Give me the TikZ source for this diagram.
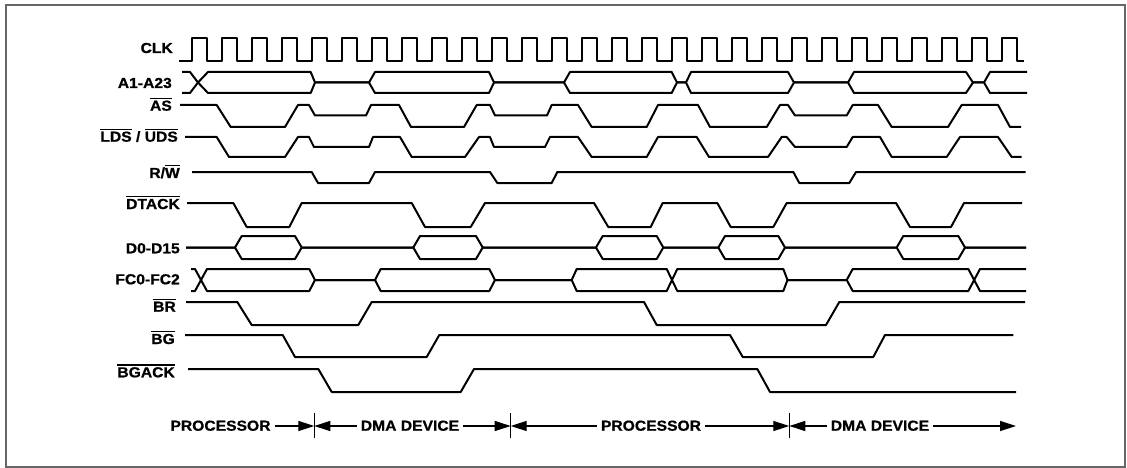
\documentclass[tikz,border=0pt]{standalone}
\usepackage{fontspec}
\setmainfont{Liberation Sans}[FakeStretch=1.08, BoldFeatures={FakeBold=0.8}]
\usetikzlibrary{arrows.meta}
\newcommand{\ovl}[1]{\vbox{\hrule height 1.4pt\kern 1.6pt\hbox{#1}}}

\begin{document}
\begin{tikzpicture}[x=1pt, y=-1pt,
  sig/.style={line width=2pt, line join=round},
  lbl/.style={anchor=base east, inner sep=0pt, font=\fontsize{14.5}{17}\selectfont\bfseries},
  who/.style={anchor=base, inner xsep=4pt, inner ysep=0pt, font=\fontsize{14.5}{17}\selectfont\bfseries},
  span/.style={line width=1.3pt, -{Triangle[length=16pt, width=10pt]}},
  bar/.style={line width=1.4pt}]
  \useasboundingbox (0,0) rectangle (1127,468);
  \draw[black!60, line width=1.2pt] (6,5) rectangle (1125,467);

  % signal names
  \node[lbl] (clk) at (173,53) {CLK};
  \node[lbl] (addr) at (172,88) {A1-A23};
  \node[lbl] (as) at (172,110.7) {\ovl{AS}};
  \node[lbl] (ds) at (178,141.7) {\ovl{LDS} / \ovl{UDS}};
  \node[lbl] (rw) at (180,178) {R/\ovl{W}};
  \node[lbl] (dtack) at (180,209) {\ovl{DTACK}};
  \node[lbl] (data) at (180,253.3) {D0-D15};
  \node[lbl] (fc) at (180,284.3) {FC0-FC2};
  \node[lbl] (br) at (176,311.7) {\ovl{BR}};
  \node[lbl] (bg) at (175,344) {\ovl{BG}};
  \node[lbl] (bgack) at (175,377.3) {\ovl{BGACK}};

  % CLK
  \draw[sig] (179,61) \foreach \k in {0,...,27} {
    -- ({192+30*\k},61) -- ({192+30*\k},38) -- ({206.5+30*\k},38) -- ({206.5+30*\k},61)} -- (1024,61);

  % A1-A23
  \foreach \y in {72,93}
    \draw[sig] (182,\y) -- (190,\y) -- (198,82.5) -- (208,165-\y) -- (310.7,165-\y) -- (315,82.5)
      -- (369,82.5) -- (375,165-\y) -- (489,165-\y) -- (494,82.5) -- (564,82.5) -- (570,165-\y)
      -- (671.7,165-\y) -- (677,82.5) -- (686,82.5) -- (691,165-\y) -- (788,165-\y) -- (794,82.5)
      -- (848,82.5) -- (854,165-\y) -- (966,165-\y) -- (973,82.5) -- (984,82.5) -- (990,165-\y)
      -- (1027,165-\y);

  % AS
  \draw[sig] (180,105) -- (216.7,105) -- (230.7,127) -- (285,127) -- (298,105) -- (309,105)
    -- (315,115.5) -- (366,115.5) -- (371,105) -- (399,105) -- (411,127) -- (464,127) -- (476.7,105)
    -- (490,105) -- (495,115.5) -- (547,115.5) -- (551.7,105) -- (578,105) -- (591.7,127)
    -- (646.7,127) -- (658,105) -- (698,105) -- (710,127) -- (766.7,127) -- (780,105) -- (788,105)
    -- (795,115.5) -- (846.7,115.5) -- (852.7,105) -- (878,105) -- (891.7,127) -- (948,127)
    -- (961.7,105) -- (998,105) -- (1010,127) -- (1021,127);

  % LDS / UDS
  \draw[sig] (185,137) -- (216.7,137) -- (229,157) -- (285,157) -- (298,137) -- (309,137)
    -- (314,147) -- (369,147) -- (373,137) -- (400,137) -- (411.7,157) -- (465,157) -- (479,137)
    -- (490,137) -- (494,147) -- (545,147) -- (550,137) -- (578,137) -- (591.7,157)
    -- (646.7,157) -- (658,137) -- (696.7,137) -- (709,157) -- (768,157) -- (781.7,137)
    -- (786.7,137) -- (795,147) -- (846.7,147) -- (852.7,137) -- (880,137) -- (891.7,157)
    -- (946.7,157) -- (960,137) -- (998,137) -- (1011.7,157) -- (1021.7,157);

  % R/W
  \draw[sig] (192,172) -- (311.7,172) -- (318,183) -- (369,183) -- (375,172) -- (490,172)
    -- (497.3,183) -- (551.7,183) -- (557.3,172) -- (793.3,172) -- (799.3,183) -- (849.3,183)
    -- (856,172) -- (1025.7,172);

  % DTACK
  \draw[sig] (187,203) -- (233.3,203) -- (246.7,227) -- (289.3,227) -- (301.7,203) -- (411.7,203)
    -- (425,227) -- (470.7,227) -- (485,203) -- (594,203) -- (608.3,227) -- (650.7,227)
    -- (662.7,203) -- (717.3,203) -- (730.7,227) -- (773.3,227) -- (786.7,203) -- (896,203)
    -- (910,227) -- (951,227) -- (964,203) -- (1022,203);

  % D0-D15
  \foreach \y in {236,259}
    \draw[sig] (186,247.5) -- (235,247.5) -- (241.7,\y) -- (295,\y) -- (301.7,247.5)
      -- (413.3,247.5) -- (420,\y) -- (476,\y) -- (482.7,247.5) -- (596,247.5) -- (602.7,\y)
      -- (656.7,\y) -- (663.3,247.5) -- (718.3,247.5) -- (725,\y) -- (778.3,\y) -- (785,247.5)
      -- (896.7,247.5) -- (903.3,\y) -- (958.3,\y) -- (965,247.5) -- (1026,247.5);

  % FC0-FC2
  \foreach \y in {269,291}
    \draw[sig] (191,\y) -- (195,\y) -- (207,560-\y) -- (309.3,560-\y) -- (315,280) -- (375,280)
      -- (380.7,\y) -- (489.3,\y) -- (495,280) -- (571.7,280) -- (576.7,\y) -- (666.7,\y)
      -- (677.3,560-\y) -- (783.3,560-\y) -- (787.5,280) -- (846.7,280) -- (852.7,\y)
      -- (968.3,\y) -- (980,560-\y) -- (1026,560-\y);

  % BR
  \draw[sig] (186,302) -- (237.3,302) -- (251.7,325) -- (358.3,325) -- (371.7,302) -- (644,302)
    -- (656.7,325) -- (826,325) -- (839.3,302) -- (1025,302);

  % BG
  \draw[sig] (185,335) -- (282.7,335) -- (295,357) -- (426.7,357) -- (439.3,335) -- (730,335)
    -- (742.7,357) -- (873.3,357) -- (885,335) -- (1013.3,335);

  % BGACK
  \draw[sig] (188,369) -- (318.3,369) -- (331.7,392) -- (460.7,392) -- (474,369) -- (757.3,369)
    -- (770,392) -- (1016,392);

  % bus owner
  \node[who] (proc1) at (220.5,430.7) {PROCESSOR};
  \node[who] (dma1) at (410,430.7) {DMA DEVICE};
  \node[who] (proc2) at (651,430.7) {PROCESSOR};
  \node[who] (dma2) at (880,430.7) {DMA DEVICE};
  \coordinate (b1) at (314.3,426);
  \coordinate (b2) at (510.7,426);
  \coordinate (b3) at (789.3,426);
  \coordinate (fin) at (1016,426);
  \foreach \b in {b1,b2,b3}
    \draw[bar] ([yshift=13pt]\b) -- ([yshift=-12pt]\b);
  \draw[span] (proc1.east |- b1) -- (b1);
  \draw[span] (dma1.west |- b1) -- (b1);
  \draw[span] (dma1.east |- b2) -- (b2);
  \draw[span] (proc2.west |- b2) -- (b2);
  \draw[span] (proc2.east |- b3) -- (b3);
  \draw[span] (dma2.west |- b3) -- (b3);
  \draw[span] (dma2.east |- fin) -- (fin);
\end{tikzpicture}
\end{document}
